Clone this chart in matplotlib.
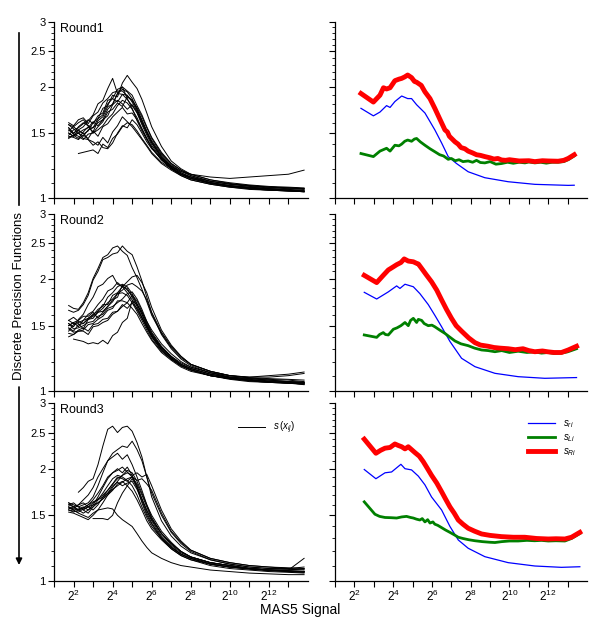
import numpy as np
import matplotlib
matplotlib.use('Agg')
import matplotlib.pyplot as plt
from matplotlib.lines import Line2D
from matplotlib.patches import FancyArrowPatch
from matplotlib.ticker import FixedLocator, NullFormatter, NullLocator

plt.rcParams['font.family'] = ['Liberation Sans', 'DejaVu Sans']
plt.rcParams['mathtext.fontset'] = 'custom'
plt.rcParams['mathtext.rm'] = 'Liberation Sans'
plt.rcParams['mathtext.it'] = 'Liberation Sans:italic'
plt.rcParams['mathtext.bf'] = 'Liberation Sans:bold'

nan = np.nan

# ---------------- data (x given as log2 of MAS5 signal) ----------------
grid_log2 = [1.75, 2.0, 2.25, 2.5, 2.75, 3.0, 3.25, 3.5, 3.75, 4.0, 4.25, 4.5, 4.75, 5.0,
             5.25, 5.5, 5.75, 6.0, 6.5, 7.0, 7.5, 8.0, 9.0, 10.0, 11.0, 12.0, 13.0, 13.8]

round1_curves = [
    [1.55,1.50,1.53,1.49,1.52,1.60,1.64,1.75,1.78,1.90,1.88,2.05,2.15,2.06,1.98,1.85,1.70,1.56,1.38,1.26,1.20,1.16,1.12,1.095,1.08,1.07,1.065,1.06],
    [1.50,1.47,1.53,1.56,1.62,1.68,1.80,1.84,1.98,2.11,1.92,2.00,1.86,1.75,1.62,1.52,1.44,1.37,1.27,1.21,1.16,1.13,1.10,1.08,1.065,1.055,1.05,1.045],
    [1.58,1.54,1.50,1.47,1.53,1.55,1.64,1.68,1.80,1.86,1.97,2.00,1.95,1.90,1.78,1.68,1.56,1.46,1.33,1.24,1.19,1.15,1.11,1.09,1.08,1.07,1.065,1.06],
    [1.46,1.48,1.45,1.51,1.56,1.51,1.62,1.66,1.77,1.79,1.92,1.97,1.94,1.86,1.74,1.62,1.51,1.42,1.30,1.22,1.17,1.14,1.10,1.08,1.065,1.055,1.045,1.04],
    [1.53,1.49,1.56,1.60,1.57,1.55,1.60,1.63,1.74,1.80,1.92,1.91,1.90,1.82,1.72,1.60,1.50,1.41,1.29,1.22,1.17,1.14,1.10,1.08,1.07,1.06,1.055,1.05],
    [1.48,1.53,1.55,1.59,1.63,1.59,1.67,1.70,1.84,1.86,1.82,1.91,1.85,1.78,1.70,1.58,1.48,1.39,1.28,1.21,1.16,1.13,1.10,1.075,1.06,1.05,1.045,1.04],
    [1.55,1.49,1.47,1.44,1.49,1.50,1.53,1.57,1.64,1.69,1.78,1.84,1.81,1.74,1.65,1.54,1.45,1.37,1.27,1.20,1.16,1.13,1.095,1.075,1.065,1.06,1.05,1.045],
    [1.52,1.56,1.60,1.63,1.57,1.50,1.56,1.61,1.71,1.74,1.81,1.77,1.88,1.84,1.76,1.66,1.55,1.45,1.32,1.24,1.19,1.16,1.12,1.10,1.085,1.075,1.07,1.065],
    [1.47,1.46,1.44,1.48,1.45,1.52,1.47,1.56,1.59,1.66,1.71,1.76,1.69,1.70,1.63,1.54,1.45,1.37,1.27,1.20,1.15,1.12,1.09,1.07,1.055,1.05,1.045,1.04],
    [1.58,1.56,1.52,1.50,1.44,1.42,1.39,1.46,1.41,1.51,1.57,1.66,1.61,1.56,1.50,1.44,1.38,1.32,1.24,1.19,1.15,1.12,1.09,1.07,1.06,1.05,1.045,1.04],
    [nan,nan,1.32,1.33,1.34,1.35,1.32,1.40,1.37,1.45,1.49,1.56,1.60,1.58,1.52,1.45,1.39,1.33,1.25,1.20,1.16,1.14,1.11,1.09,1.08,1.07,1.065,1.06],
    [1.50,1.47,1.50,1.45,1.44,1.39,1.42,1.37,1.36,1.41,1.50,1.57,1.55,1.63,1.58,1.50,1.42,1.36,1.28,1.22,1.18,1.16,1.14,1.13,1.14,1.15,1.16,1.19],
    [1.60,1.57,1.63,1.65,1.59,1.67,1.71,1.81,1.86,1.93,1.95,1.95,1.89,1.84,1.74,1.63,1.52,1.43,1.31,1.23,1.18,1.15,1.11,1.09,1.075,1.065,1.06,1.055],
    [1.45,1.48,1.50,1.53,1.55,1.61,1.57,1.63,1.67,1.79,1.84,1.80,1.74,1.79,1.71,1.60,1.50,1.41,1.29,1.21,1.16,1.13,1.10,1.08,1.07,1.06,1.05,1.045],
]

round2_curves = [
    [1.70,1.67,1.66,1.73,1.84,2.01,2.14,2.29,2.33,2.43,2.46,2.38,2.32,2.15,2.02,1.88,1.74,1.60,1.43,1.31,1.23,1.18,1.13,1.10,1.085,1.075,1.07,1.06],
    [1.65,1.63,1.65,1.71,1.81,1.99,2.10,2.26,2.29,2.34,2.36,2.46,2.38,2.33,2.16,1.98,1.79,1.63,1.44,1.32,1.24,1.18,1.13,1.10,1.085,1.08,1.075,1.07],
    [1.52,1.49,1.56,1.61,1.71,1.79,1.91,1.94,2.01,2.05,1.94,1.91,1.84,1.76,1.66,1.57,1.49,1.41,1.31,1.24,1.19,1.16,1.12,1.09,1.08,1.07,1.06,1.055],
    [1.50,1.53,1.49,1.55,1.57,1.61,1.64,1.71,1.71,1.81,1.84,1.91,1.97,2.03,2.05,1.96,1.84,1.68,1.46,1.33,1.24,1.18,1.13,1.10,1.09,1.10,1.11,1.125],
    [1.48,1.45,1.51,1.52,1.56,1.57,1.63,1.64,1.69,1.74,1.83,1.87,1.93,1.95,1.91,1.86,1.76,1.62,1.42,1.30,1.22,1.17,1.12,1.10,1.09,1.09,1.10,1.115],
    [1.55,1.52,1.53,1.55,1.61,1.64,1.71,1.77,1.86,1.89,1.96,1.91,1.89,1.79,1.69,1.58,1.48,1.40,1.29,1.22,1.17,1.14,1.10,1.08,1.065,1.055,1.05,1.045],
    [1.45,1.51,1.52,1.47,1.56,1.59,1.63,1.67,1.73,1.77,1.83,1.84,1.81,1.73,1.64,1.55,1.46,1.38,1.28,1.22,1.17,1.14,1.10,1.08,1.07,1.06,1.05,1.045],
    [1.52,1.47,1.48,1.50,1.53,1.54,1.59,1.61,1.67,1.69,1.73,1.77,1.83,1.85,1.77,1.66,1.54,1.44,1.32,1.24,1.18,1.15,1.11,1.085,1.07,1.06,1.055,1.05],
    [1.47,1.44,1.45,1.46,1.51,1.52,1.56,1.59,1.65,1.67,1.75,1.75,1.73,1.67,1.61,1.52,1.44,1.37,1.27,1.21,1.16,1.13,1.10,1.075,1.06,1.055,1.05,1.045],
    [1.50,1.53,1.55,1.59,1.59,1.63,1.57,1.63,1.69,1.76,1.79,1.93,1.87,1.81,1.71,1.61,1.51,1.42,1.31,1.23,1.18,1.15,1.11,1.09,1.075,1.065,1.06,1.055],
    [nan,1.38,1.37,1.36,1.34,1.35,1.34,1.37,1.34,1.41,1.44,1.53,1.57,1.75,1.71,1.63,1.54,1.46,1.34,1.26,1.20,1.16,1.12,1.09,1.08,1.07,1.06,1.055],
    [1.43,1.42,1.46,1.48,1.45,1.51,1.52,1.56,1.57,1.63,1.64,1.69,1.73,1.81,1.75,1.64,1.52,1.43,1.31,1.23,1.18,1.15,1.11,1.085,1.07,1.06,1.05,1.045],
    [1.55,1.58,1.54,1.52,1.57,1.60,1.66,1.69,1.79,1.84,1.91,1.94,1.91,1.83,1.72,1.61,1.50,1.41,1.30,1.22,1.17,1.14,1.10,1.08,1.07,1.06,1.055,1.05],
    [1.40,1.42,1.45,1.45,1.42,1.49,1.50,1.53,1.55,1.61,1.64,1.71,1.67,1.73,1.67,1.58,1.49,1.40,1.29,1.22,1.17,1.14,1.10,1.08,1.065,1.055,1.05,1.04],
]

round3_curves = [
    [nan,nan,1.73,1.78,1.85,1.88,2.05,2.30,2.55,2.60,2.50,2.58,2.60,2.52,2.35,2.15,1.90,1.68,1.45,1.32,1.24,1.19,1.14,1.11,1.09,1.08,1.08,1.09],
    [1.62,1.60,1.58,1.60,1.62,1.68,1.80,1.95,2.10,2.20,2.25,2.30,2.28,2.37,2.25,2.10,1.90,1.72,1.50,1.35,1.26,1.20,1.14,1.11,1.09,1.08,1.075,1.07],
    [1.58,1.56,1.60,1.65,1.70,1.78,1.90,2.00,2.10,2.15,2.20,2.12,2.18,2.05,1.90,1.75,1.60,1.48,1.34,1.26,1.20,1.16,1.12,1.10,1.08,1.07,1.065,1.06],
    [1.55,1.54,1.53,1.56,1.58,1.62,1.66,1.70,1.75,1.82,1.88,1.92,1.95,1.92,1.95,1.90,1.93,1.80,1.55,1.38,1.28,1.21,1.15,1.12,1.10,1.09,1.08,1.075],
    [1.60,1.58,1.55,1.57,1.60,1.63,1.65,1.68,1.72,1.76,1.80,1.84,1.88,1.90,1.86,1.88,1.82,1.75,1.52,1.36,1.27,1.21,1.15,1.12,1.10,1.09,1.085,1.08],
    [1.57,1.55,1.56,1.58,1.55,1.60,1.68,1.78,1.88,1.95,2.00,1.95,2.02,1.92,1.78,1.62,1.50,1.42,1.30,1.22,1.17,1.14,1.11,1.09,1.08,1.07,1.06,1.055],
    [1.62,1.58,1.55,1.52,1.55,1.58,1.65,1.72,1.80,1.88,1.92,1.90,1.86,1.80,1.70,1.58,1.48,1.40,1.30,1.23,1.18,1.15,1.11,1.09,1.08,1.07,1.065,1.06],
    [1.56,1.58,1.60,1.62,1.58,1.55,1.60,1.68,1.75,1.82,1.90,1.88,1.85,1.90,1.82,1.70,1.58,1.47,1.34,1.25,1.19,1.16,1.12,1.10,1.08,1.07,1.07,1.08],
    [nan,nan,nan,nan,nan,1.47,1.47,1.47,1.46,1.50,1.62,1.72,1.80,1.88,1.78,1.66,1.55,1.46,1.34,1.26,1.20,1.16,1.12,1.10,1.08,1.07,1.065,1.06],
    [1.58,1.55,1.52,1.50,1.48,1.52,1.55,1.56,1.57,1.56,1.50,1.46,1.43,1.40,1.34,1.28,1.23,1.19,1.15,1.12,1.10,1.09,1.07,1.06,1.05,1.045,1.04,1.04],
    [1.53,1.52,1.50,1.48,1.46,1.50,1.55,1.62,1.70,1.75,1.82,1.85,1.80,1.74,1.65,1.55,1.45,1.38,1.29,1.22,1.17,1.14,1.10,1.08,1.07,1.06,1.055,1.05],
    [1.60,1.62,1.58,1.55,1.52,1.58,1.62,1.66,1.70,1.78,1.85,1.92,1.98,1.95,1.85,1.72,1.60,1.50,1.36,1.27,1.20,1.16,1.12,1.10,1.08,1.07,1.07,1.15],
    [1.55,1.53,1.55,1.57,1.60,1.65,1.72,1.80,1.90,1.95,1.98,2.02,1.96,1.90,1.80,1.66,1.54,1.45,1.32,1.24,1.18,1.15,1.11,1.09,1.075,1.065,1.06,1.055],
    [nan,nan,nan,1.55,1.58,1.60,1.62,1.66,1.72,1.80,1.84,1.80,1.83,1.85,1.76,1.64,1.52,1.43,1.31,1.23,1.18,1.15,1.11,1.09,1.08,1.07,1.06,1.06],
]

# right column: s_ri (blue), s_Li (green), s_Ri (red); x as log2 of signal
r1_red_x = [2.34,2.98,3.32,3.5,3.66,3.84,4.09,4.3,4.44,4.6,4.75,4.95,5.1,5.21,5.45,5.64,5.9,6.15,6.4,6.67,6.8,6.9,7.19,7.35,7.5,7.7,7.87,8.1,8.3,8.5,8.73,9.0,9.2,9.4,9.59,9.8,10.0,10.5,11.0,11.31,11.7,12.0,12.51,12.8,13.03,13.34]
r1_red_y = [1.92,1.82,1.90,1.99,1.975,1.99,2.08,2.10,2.11,2.13,2.155,2.12,2.07,2.06,2.02,1.94,1.86,1.75,1.64,1.53,1.51,1.47,1.42,1.40,1.37,1.36,1.34,1.325,1.31,1.305,1.295,1.285,1.275,1.28,1.268,1.265,1.27,1.26,1.262,1.255,1.262,1.26,1.258,1.265,1.28,1.31]
r1_blue_x = [2.34,2.98,3.32,3.66,3.84,4.09,4.44,4.75,4.95,5.21,5.64,6.15,6.5,6.84,7.27,7.87,8.73,9.93,11.31,13.03,13.34]
r1_blue_y = [1.75,1.67,1.71,1.78,1.76,1.826,1.89,1.86,1.86,1.79,1.70,1.53,1.41,1.295,1.24,1.178,1.135,1.107,1.089,1.082,1.083]
r1_green_x = [2.34,2.98,3.32,3.66,3.84,4.09,4.3,4.44,4.6,4.75,4.95,5.1,5.21,5.4,5.64,5.9,6.15,6.4,6.6,6.84,7.0,7.2,7.4,7.6,7.87,8.1,8.3,8.5,8.73,9.0,9.3,9.59,9.9,10.2,10.5,10.8,11.0,11.31,11.6,11.9,12.2,12.51,12.8,13.03,13.34]
r1_green_y = [1.32,1.295,1.34,1.364,1.34,1.39,1.385,1.40,1.425,1.436,1.425,1.445,1.45,1.42,1.39,1.36,1.335,1.31,1.30,1.273,1.28,1.262,1.27,1.255,1.26,1.25,1.265,1.248,1.245,1.255,1.235,1.24,1.25,1.242,1.25,1.245,1.252,1.245,1.25,1.243,1.25,1.25,1.255,1.27,1.30]

r2_red_x = [2.51,3.15,3.49,3.75,4.0,4.18,4.4,4.57,4.78,5.04,5.2,5.3,5.47,5.7,5.98,6.25,6.5,6.75,7.01,7.25,7.53,7.9,8.22,8.5,8.9,9.2,9.5,9.93,10.3,10.7,11.0,11.31,11.7,12.0,12.3,12.68,13.03,13.46]
r2_red_y = [2.05,1.96,2.05,2.12,2.16,2.19,2.22,2.27,2.24,2.23,2.21,2.20,2.14,2.06,1.97,1.87,1.76,1.66,1.57,1.50,1.45,1.39,1.35,1.33,1.32,1.31,1.305,1.30,1.292,1.30,1.285,1.276,1.282,1.275,1.27,1.27,1.29,1.32]
r2_blue_x = [2.51,3.15,3.75,4.18,4.35,4.61,5.04,5.38,5.81,6.15,6.5,6.93,7.53,8.22,9.25,10.45,11.82,13.46]
r2_blue_y = [1.845,1.77,1.85,1.92,1.89,1.94,1.91,1.83,1.71,1.60,1.49,1.36,1.225,1.163,1.116,1.093,1.082,1.087]
r2_green_x = [2.51,3.15,3.3,3.49,3.6,3.75,4.01,4.2,4.4,4.61,4.78,4.9,5.04,5.21,5.3,5.47,5.6,5.81,6.0,6.15,6.4,6.67,6.9,7.19,7.5,7.87,8.2,8.56,8.9,9.25,9.6,10.0,10.45,10.9,11.3,11.65,12.0,12.3,12.68,13.0,13.46]
r2_green_y = [1.416,1.395,1.42,1.437,1.42,1.416,1.467,1.48,1.50,1.53,1.50,1.55,1.57,1.53,1.56,1.55,1.52,1.50,1.505,1.49,1.46,1.43,1.40,1.364,1.34,1.325,1.305,1.29,1.285,1.276,1.285,1.27,1.28,1.27,1.275,1.265,1.27,1.262,1.265,1.275,1.30]

r3_red_x = [2.51,3.11,3.35,3.58,3.84,4.09,4.25,4.44,4.61,4.78,4.95,5.12,5.35,5.55,5.75,5.98,6.25,6.5,6.7,6.93,7.15,7.36,7.6,7.87,8.2,8.56,9.0,9.59,10.2,10.79,11.4,12.0,12.4,12.86,13.2,13.63]
r3_red_y = [2.40,2.20,2.24,2.27,2.28,2.33,2.31,2.29,2.26,2.29,2.25,2.21,2.16,2.09,2.01,1.92,1.83,1.735,1.66,1.58,1.52,1.457,1.42,1.385,1.36,1.337,1.325,1.315,1.31,1.31,1.30,1.296,1.298,1.296,1.31,1.35]
r3_blue_x = [2.51,3.11,3.58,3.92,4.40,4.61,4.95,5.30,5.64,5.98,6.5,6.93,7.36,7.87,8.73,9.93,11.31,12.68,13.63]
r3_blue_y = [1.99,1.88,1.95,1.96,2.055,2.0,1.985,1.91,1.81,1.68,1.55,1.40,1.288,1.224,1.162,1.12,1.097,1.088,1.092]
r3_green_x = [2.51,3.06,3.3,3.58,3.9,4.18,4.44,4.69,4.9,5.04,5.2,5.38,5.5,5.64,5.78,5.90,6.05,6.15,6.3,6.5,6.7,6.93,7.15,7.36,7.6,7.9,8.22,8.6,9.0,9.25,9.6,10.0,10.45,10.9,11.3,11.65,12.0,12.4,12.86,13.2,13.63]
r3_green_y = [1.63,1.51,1.49,1.48,1.478,1.475,1.485,1.49,1.48,1.475,1.465,1.457,1.47,1.44,1.46,1.43,1.44,1.42,1.41,1.39,1.37,1.35,1.33,1.31,1.30,1.29,1.282,1.275,1.27,1.268,1.275,1.28,1.28,1.285,1.282,1.285,1.28,1.282,1.28,1.30,1.34]

round_labels = ['Round1', 'Round2', 'Round3']
y_major = [1, 1.5, 2, 2.5, 3]
y_major_labels = ['1', '1.5', '2', '2.5', '3']
y_minor = [1.1, 1.2, 1.3, 1.4, 1.6, 1.7, 1.8, 1.9, 2.1, 2.2, 2.3, 2.4, 2.6, 2.7, 2.8, 2.9]
x_tick_powers = list(range(1, 14))

# ---------------- figure ----------------
W, H = 600, 631
fig = plt.figure(figsize=(W / 100, H / 100), dpi=100)

def px_axes(x0, y0, x1, y1):
    return fig.add_axes([x0 / W, 1 - y1 / H, (x1 - x0) / W, (y1 - y0) / H])

rows = [(22, 198), (214, 391), (403, 581)]
left_col = (54, 308)
right_col = (335, 587)

def style(ax, show_ylabels, show_xlabels):
    ax.set_xscale('log', base=2)
    ax.set_yscale('log')
    ax.set_xlim(2 ** 1, 2 ** 14)
    ax.set_ylim(1, 3)
    for s in ('top', 'right'):
        ax.spines[s].set_visible(False)
    for s in ('left', 'bottom'):
        ax.spines[s].set_linewidth(0.9)
    ax.yaxis.set_major_locator(FixedLocator(y_major))
    ax.yaxis.set_minor_locator(FixedLocator(y_minor))
    ax.yaxis.set_minor_formatter(NullFormatter())
    if show_ylabels:
        ax.set_yticklabels(y_major_labels)
    else:
        ax.set_yticklabels([])
    ax.xaxis.set_major_locator(FixedLocator([2 ** k for k in x_tick_powers]))
    ax.xaxis.set_minor_locator(NullLocator())
    if show_xlabels:
        ax.set_xticklabels([f'$2^{{{k}}}$' if (k % 2 == 0 and 2 <= k <= 12) else ''
                            for k in x_tick_powers])
    else:
        ax.set_xticklabels([])
    ax.tick_params(which='major', direction='out', length=4, width=0.8, labelsize=8, pad=2)
    ax.tick_params(which='minor', direction='out', length=2.5, width=0.6)
    ax.tick_params(axis='x', labelsize=8.5, pad=1.5)

grid_x = 2 ** np.array(grid_log2)
left_data = [round1_curves, round2_curves, round3_curves]
right_data = [
    (r1_blue_x, r1_blue_y, r1_green_x, r1_green_y, r1_red_x, r1_red_y),
    (r2_blue_x, r2_blue_y, r2_green_x, r2_green_y, r2_red_x, r2_red_y),
    (r3_blue_x, r3_blue_y, r3_green_x, r3_green_y, r3_red_x, r3_red_y),
]

for i, (top, bot) in enumerate(rows):
    axl = px_axes(left_col[0], top, left_col[1], bot)
    for curve in left_data[i]:
        axl.plot(grid_x, curve, color='black', lw=0.7)
    style(axl, True, i == 2)
    axl.text(0.025, 0.995, round_labels[i], transform=axl.transAxes,
             ha='left', va='top', fontsize=9)

    axr = px_axes(right_col[0], top, right_col[1], bot)
    bx, by, gx, gy, rx, ry = right_data[i]
    lb, = axr.plot(2 ** np.array(bx), by, color='#0000ff', lw=0.9)
    lg, = axr.plot(2 ** np.array(gx), gy, color='#008000', lw=2.0)
    lr, = axr.plot(2 ** np.array(rx), ry, color='#ff0000', lw=3.5)
    style(axr, False, i == 2)

    if i == 2:
        axl.legend([Line2D([], [], color='black', lw=0.7)], ['$s\\,(x_{ij})$'],
                   loc='upper left', bbox_to_anchor=(0.71, 0.93), frameon=False,
                   fontsize=7, handlelength=2.8, borderaxespad=0)
        axr.legend([lb, lg, lr], ['$s_{ri}$', '$s_{Li}$', '$s_{Ri}$'],
                   loc='upper left', bbox_to_anchor=(0.75, 0.935), frameon=False,
                   fontsize=7, handlelength=2.8, labelspacing=0.2, borderaxespad=0)

# y label with arrow
fig.text(19 / W, 1 - 296 / H, 'Discrete Precision Functions', rotation=90,
         ha='center', va='center', fontsize=9.5)
fig.add_artist(Line2D([19 / W, 19 / W], [1 - 33 / H, 1 - 205 / H],
                      transform=fig.transFigure, color='black', lw=1.2))
fig.add_artist(FancyArrowPatch((19 / W, 1 - 387 / H), (19 / W, 1 - 565 / H),
                               transform=fig.transFigure, arrowstyle='-|>',
                               mutation_scale=9, lw=1.2, color='black',
                               shrinkA=0, shrinkB=0))

fig.text(300 / W, 1 - 610 / H, 'MAS5 Signal', ha='center', va='center', fontsize=10)

fig.savefig('out.png', dpi=100)
